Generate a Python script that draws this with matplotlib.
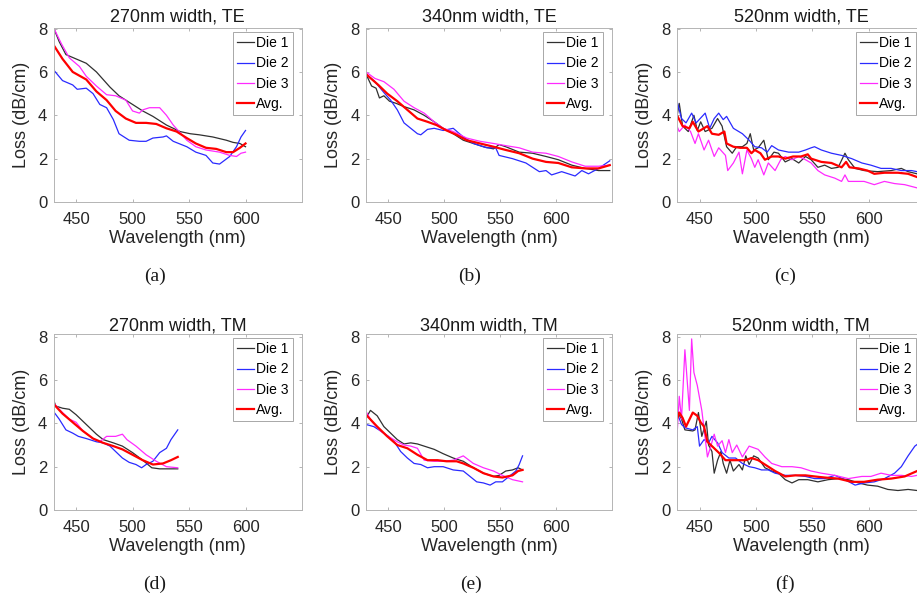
import matplotlib
matplotlib.use('Agg')
import matplotlib.pyplot as plt

plt.rcParams['font.family'] = ['Liberation Sans', 'DejaVu Sans']

FIG_W, FIG_H = 917, 596

titles = ['270nm width, TE', '340nm width, TE', '520nm width, TE',
          '270nm width, TM', '340nm width, TM', '520nm width, TM']
captions = ['(a)', '(b)', '(c)', '(d)', '(e)', '(f)']
labels = ['Die 1', 'Die 2', 'Die 3', 'Avg.']
xticks = [450, 500, 550, 600]
yticks = [0, 2, 4, 6, 8]

# (a) 270nm TE
a_d1_x = [430, 435, 441, 450, 459, 468, 480, 488, 500, 509, 518, 530, 542, 551, 559, 571, 583, 589, 595, 600]
a_d1_y = [8.05, 7.4, 6.8, 6.6, 6.4, 6.0, 5.3, 4.9, 4.5, 4.2, 3.95, 3.55, 3.25, 3.15, 3.1, 3.0, 2.85, 2.75, 2.7, 2.55]
a_d2_x = [430, 438, 447, 451, 459, 465, 471, 477, 483, 488, 497, 506, 512, 518, 527, 530, 536, 548, 556, 565, 571, 577, 586, 592, 596, 600]
a_d2_y = [6.1, 5.6, 5.4, 5.2, 5.25, 5.0, 4.5, 4.35, 3.8, 3.15, 2.85, 2.8, 2.8, 2.95, 3.0, 3.05, 2.8, 2.55, 2.3, 2.15, 1.8, 1.75, 2.1, 2.55, 3.0, 3.3]
a_d3_x = [430, 437, 444, 453, 459, 468, 477, 485, 494, 500, 506, 509, 515, 524, 530, 536, 542, 548, 556, 565, 577, 586, 592, 596, 600]
a_d3_y = [8.05, 7.3, 6.65, 6.25, 5.8, 5.35, 4.95, 4.9, 4.7, 4.2, 4.1, 4.25, 4.35, 4.35, 4.0, 3.55, 3.2, 2.85, 2.55, 2.4, 2.3, 2.15, 2.1, 2.25, 2.3]
a_avg_x = [430, 438, 447, 459, 468, 477, 485, 494, 503, 512, 521, 530, 539, 548, 556, 565, 574, 583, 589, 595, 600]
a_avg_y = [7.25, 6.6, 6.0, 5.65, 5.1, 4.7, 4.2, 3.85, 3.65, 3.65, 3.6, 3.4, 3.25, 2.95, 2.7, 2.5, 2.45, 2.3, 2.3, 2.5, 2.7]

# (b) 340nm TE
b_d1_x = [430, 435, 439, 442, 446, 451, 457, 464, 473, 482, 491, 499, 508, 517, 526, 535, 544, 549, 555, 567, 579, 591, 602, 614, 626, 638, 648]
b_d1_y = [5.9, 5.35, 5.25, 4.8, 4.9, 4.65, 4.55, 4.4, 4.25, 4.0, 3.7, 3.4, 3.15, 2.85, 2.7, 2.55, 2.45, 2.65, 2.55, 2.3, 2.25, 2.1, 1.95, 1.7, 1.55, 1.45, 1.45]
b_d2_x = [430, 438, 446, 452, 458, 464, 470, 476, 479, 485, 491, 499, 508, 517, 526, 538, 546, 549, 561, 573, 585, 591, 596, 605, 617, 623, 629, 638, 648]
b_d2_y = [5.9, 5.55, 5.05, 4.7, 4.25, 3.65, 3.4, 3.15, 3.1, 3.35, 3.4, 3.3, 3.4, 3.0, 2.7, 2.5, 2.5, 2.15, 2.0, 1.8, 1.4, 1.45, 1.25, 1.4, 1.2, 1.45, 1.3, 1.55, 1.9]
b_d3_x = [430, 438, 446, 455, 464, 473, 482, 491, 499, 508, 520, 532, 544, 555, 567, 579, 591, 602, 614, 626, 638, 648]
b_d3_y = [6.0, 5.7, 5.55, 5.2, 4.65, 4.35, 4.1, 3.7, 3.4, 3.25, 2.95, 2.8, 2.7, 2.6, 2.5, 2.3, 2.25, 2.1, 1.85, 1.65, 1.65, 1.7]
b_avg_x = [430, 441, 449, 458, 467, 476, 485, 493, 502, 511, 520, 532, 544, 555, 567, 579, 591, 602, 614, 626, 638, 648]
b_avg_y = [5.9, 5.4, 5.0, 4.65, 4.25, 3.85, 3.7, 3.55, 3.3, 3.1, 2.85, 2.7, 2.55, 2.4, 2.25, 2.0, 1.85, 1.8, 1.6, 1.55, 1.55, 1.7]

# (c) 520nm TE
c_d1_x = [430, 432, 435, 440, 445, 448, 451, 455, 461, 466, 470, 474, 479, 483, 488, 492, 495, 498, 502, 507, 511, 516, 520, 526, 532, 538, 544, 549, 555, 561, 567, 573, 579, 582, 588, 596, 608, 620, 629, 635, 643, 650]
c_d1_y = [3.95, 4.55, 3.5, 3.25, 4.0, 3.3, 3.7, 3.25, 3.4, 3.85, 3.5, 2.55, 2.25, 2.55, 2.55, 2.7, 3.15, 2.4, 2.5, 2.85, 1.95, 2.3, 2.25, 1.85, 2.0, 1.8, 2.1, 1.95, 1.6, 1.7, 1.55, 1.6, 2.25, 1.95, 1.55, 1.45, 1.4, 1.45, 1.55, 1.4, 1.3, 1.3]
c_d2_x = [430, 434, 438, 443, 447, 455, 459, 463, 467, 471, 474, 480, 488, 494, 499, 505, 510, 514, 520, 529, 538, 544, 549, 552, 558, 567, 576, 585, 594, 602, 611, 620, 629, 638, 643, 650]
c_d2_y = [4.65, 3.85, 3.65, 4.1, 3.65, 4.1, 3.4, 3.85, 4.1, 3.8, 3.95, 3.4, 3.15, 2.85, 2.55, 2.5, 2.3, 2.6, 2.4, 2.3, 2.3, 2.4, 2.5, 2.55, 2.4, 2.25, 2.15, 2.0, 1.8, 1.7, 1.55, 1.55, 1.45, 1.45, 1.4, 1.35]
c_d3_x = [430, 432, 437, 442, 446, 449, 454, 458, 463, 467, 473, 475, 480, 485, 488, 492, 496, 499, 502, 507, 511, 517, 522, 526, 532, 538, 544, 549, 555, 561, 570, 576, 579, 582, 588, 596, 605, 614, 623, 632, 643, 650]
c_d3_y = [3.5, 3.25, 3.55, 3.25, 2.7, 3.15, 2.4, 2.85, 2.1, 2.5, 2.15, 1.45, 1.8, 2.3, 1.3, 2.4, 2.0, 1.6, 1.95, 1.25, 1.8, 1.45, 1.95, 2.1, 1.95, 2.1, 1.95, 1.8, 1.45, 1.25, 1.1, 0.95, 1.25, 0.95, 0.95, 0.95, 0.8, 0.95, 0.85, 0.8, 0.65, 0.65]
c_avg_x = [430, 435, 441, 444, 449, 457, 461, 467, 472, 474, 480, 486, 492, 496, 499, 504, 508, 514, 520, 526, 533, 540, 546, 549, 558, 567, 576, 580, 583, 591, 599, 605, 614, 626, 635, 643, 650]
c_avg_y = [4.0, 3.5, 3.4, 3.7, 3.25, 3.5, 3.15, 3.1, 3.25, 2.7, 2.55, 2.5, 2.5, 2.25, 2.4, 2.25, 1.95, 2.1, 2.1, 2.0, 2.1, 2.1, 2.2, 2.0, 1.85, 1.8, 1.6, 1.85, 1.6, 1.55, 1.45, 1.3, 1.35, 1.35, 1.3, 1.15, 1.1]

# (d) 270nm TM
d_d1_x = [430, 432, 438, 444, 450, 459, 468, 474, 483, 491, 500, 509, 517, 524, 533, 540]
d_d1_y = [5.1, 4.8, 4.7, 4.65, 4.4, 3.95, 3.5, 3.25, 3.1, 2.95, 2.65, 2.3, 1.95, 1.9, 1.9, 1.9]
d_d2_x = [430, 435, 441, 447, 452, 459, 468, 474, 480, 485, 491, 497, 503, 508, 512, 518, 524, 530, 534, 540]
d_d2_y = [4.55, 4.2, 3.7, 3.55, 3.4, 3.3, 3.15, 3.1, 2.95, 2.7, 2.4, 2.2, 2.1, 1.95, 2.1, 2.25, 2.65, 2.85, 3.25, 3.7]
d_d3_x = [430, 435, 444, 450, 456, 465, 471, 477, 485, 491, 495, 503, 512, 521, 530, 540]
d_d3_y = [4.95, 4.65, 4.2, 4.05, 3.65, 3.3, 3.15, 3.4, 3.4, 3.5, 3.25, 2.95, 2.55, 2.25, 2.0, 1.95]
d_avg_x = [430, 438, 447, 456, 465, 474, 483, 491, 500, 509, 518, 527, 534, 540]
d_avg_y = [4.9, 4.45, 4.05, 3.65, 3.3, 3.1, 2.95, 2.8, 2.55, 2.3, 2.1, 2.15, 2.3, 2.45]

# (e) 340nm TM
e_d1_x = [430, 434, 440, 446, 452, 458, 464, 470, 476, 482, 491, 499, 508, 517, 526, 535, 544, 549, 555, 561, 566, 570]
e_d1_y = [4.25, 4.6, 4.35, 3.85, 3.55, 3.25, 3.05, 3.1, 3.05, 2.95, 2.8, 2.6, 2.4, 2.25, 1.95, 1.7, 1.55, 1.6, 1.8, 1.85, 1.95, 1.85]
e_d2_x = [430, 437, 443, 450, 456, 461, 467, 473, 479, 485, 491, 499, 508, 517, 523, 529, 535, 541, 546, 552, 558, 564, 567, 570]
e_d2_y = [3.95, 3.85, 3.65, 3.4, 3.1, 2.7, 2.4, 2.15, 2.1, 1.95, 2.0, 2.0, 1.85, 1.8, 1.55, 1.3, 1.25, 1.15, 1.3, 1.3, 1.55, 1.8, 2.1, 2.5]
e_d3_x = [430, 435, 443, 450, 458, 464, 470, 476, 482, 491, 499, 508, 517, 526, 535, 544, 552, 561, 570]
e_d3_y = [4.55, 4.1, 3.65, 3.4, 3.15, 3.0, 2.95, 2.85, 2.3, 2.25, 2.25, 2.3, 2.5, 2.15, 1.95, 1.8, 1.6, 1.4, 1.3]
e_avg_x = [430, 440, 449, 458, 467, 476, 485, 494, 502, 511, 517, 526, 535, 544, 552, 561, 566, 570]
e_avg_y = [4.4, 3.85, 3.4, 3.0, 2.85, 2.55, 2.3, 2.3, 2.25, 2.25, 2.15, 1.95, 1.7, 1.55, 1.5, 1.6, 1.8, 1.85]

# (f) 520nm TM
f_d1_x = [430, 434, 437, 444, 446, 449, 452, 456, 458, 461, 463, 466, 469, 471, 474, 477, 480, 485, 488, 491, 494, 498, 502, 508, 514, 520, 526, 532, 538, 546, 555, 564, 573, 582, 591, 599, 608, 617, 626, 635, 643, 650]
f_d1_y = [4.55, 4.2, 3.7, 3.65, 3.7, 4.5, 3.4, 4.1, 3.0, 2.7, 1.7, 2.3, 2.7, 2.15, 1.7, 2.3, 1.8, 2.1, 1.85, 2.5, 2.1, 2.5, 2.4, 1.95, 1.8, 1.7, 1.4, 1.25, 1.4, 1.4, 1.3, 1.4, 1.45, 1.4, 1.25, 1.15, 1.1, 0.95, 0.9, 0.95, 0.9, 0.9]
f_d2_x = [430, 434, 437, 444, 448, 450, 454, 458, 461, 466, 470, 476, 482, 488, 494, 499, 505, 511, 517, 526, 535, 544, 552, 561, 570, 579, 588, 596, 605, 614, 623, 629, 635, 641, 645, 650]
f_d2_y = [4.5, 3.95, 3.8, 3.7, 3.85, 2.95, 3.25, 3.1, 3.4, 3.1, 2.65, 2.4, 2.4, 2.15, 2.0, 1.95, 1.85, 1.85, 1.7, 1.6, 1.6, 1.55, 1.45, 1.45, 1.6, 1.4, 1.15, 1.25, 1.3, 1.45, 1.7, 2.0, 2.5, 2.95, 3.1, 3.15]
f_d3_x = [430, 432, 434, 437, 441, 443, 445, 448, 452, 457, 460, 463, 466, 470, 473, 476, 479, 483, 488, 494, 502, 508, 514, 523, 532, 540, 549, 558, 570, 582, 594, 602, 611, 620, 629, 638, 643, 650]
f_d3_y = [3.4, 5.25, 4.2, 7.4, 4.6, 7.9, 6.35, 5.75, 4.6, 2.45, 2.95, 3.5, 2.95, 3.2, 2.65, 3.25, 2.65, 3.0, 2.45, 2.95, 2.8, 2.45, 2.15, 2.0, 2.0, 1.95, 1.8, 1.7, 1.6, 1.45, 1.55, 1.55, 1.7, 1.6, 1.6, 1.55, 1.6, 1.6]
f_avg_x = [430, 432, 435, 438, 444, 448, 451, 454, 457, 461, 467, 473, 479, 485, 491, 496, 502, 508, 517, 526, 535, 544, 552, 561, 573, 585, 596, 608, 620, 632, 643, 650]
f_avg_y = [4.2, 4.5, 4.25, 3.85, 4.5, 4.35, 4.05, 3.85, 3.15, 2.95, 2.65, 2.3, 2.3, 2.3, 2.3, 2.4, 2.3, 2.1, 1.8, 1.55, 1.6, 1.6, 1.55, 1.5, 1.45, 1.3, 1.3, 1.4, 1.45, 1.55, 1.8, 1.85]

panels = [
    [(a_d1_x, a_d1_y), (a_d2_x, a_d2_y), (a_d3_x, a_d3_y), (a_avg_x, a_avg_y)],
    [(b_d1_x, b_d1_y), (b_d2_x, b_d2_y), (b_d3_x, b_d3_y), (b_avg_x, b_avg_y)],
    [(c_d1_x, c_d1_y), (c_d2_x, c_d2_y), (c_d3_x, c_d3_y), (c_avg_x, c_avg_y)],
    [(d_d1_x, d_d1_y), (d_d2_x, d_d2_y), (d_d3_x, d_d3_y), (d_avg_x, d_avg_y)],
    [(e_d1_x, e_d1_y), (e_d2_x, e_d2_y), (e_d3_x, e_d3_y), (e_avg_x, e_avg_y)],
    [(f_d1_x, f_d1_y), (f_d2_x, f_d2_y), (f_d3_x, f_d3_y), (f_avg_x, f_avg_y)],
]

colors = ['#303030', '#2a2aff', '#ff2aff', '#ff0000']
widths = [0.9, 0.9, 0.9, 1.6]

# axes boxes in pixels: left, top, right, bottom
boxes = [(53.5, 27.5, 302, 202), (366, 27.5, 612, 202), (677, 27.5, 925, 202),
         (53.5, 333.5, 302, 510), (366, 333.5, 612, 510), (677, 333.5, 925, 510)]
ytops = [8.05, 8.05, 8.05, 8.15, 8.15, 8.15]
title_pads = [4, 4, 4, 2.3, 2.3, 2.3]
caption_pos = [(155, 276), (470, 276), (785, 276), (155, 584), (471, 584), (785, 584)]


def px_rect(l, t, r, b):
    return [l / FIG_W, 1 - b / FIG_H, (r - l) / FIG_W, (b - t) / FIG_H]


fig = plt.figure(figsize=(FIG_W / 100, FIG_H / 100), dpi=100)

for i in range(6):
    l, t, r, b = boxes[i]
    ax = fig.add_axes(px_rect(l, t, r, b))
    for (xs, ys), c, lw, lab in zip(panels[i], colors, widths, labels):
        ax.plot(xs, ys, color=c, lw=lw, label=lab)
    ax.set_xlim(430, 650)
    ax.set_ylim(0, ytops[i])
    ax.set_xticks(xticks)
    ax.set_yticks(yticks)
    ax.tick_params(direction='in', length=2.5, width=0.6, color='#a8a8a8',
                   top=True, right=True, labelsize=12, labelcolor='#262626')
    ax.tick_params(axis='x', pad=7)
    ax.tick_params(axis='y', pad=4.5)
    for sp in ax.spines.values():
        sp.set_color('#b4b4b4')
        sp.set_linewidth(0.7)
    ax.set_title(titles[i], fontsize=13, color='#1a1a1a', pad=title_pads[i])
    ax.set_xlabel('Wavelength (nm)', fontsize=13, color='#262626', labelpad=2.5)
    ax.set_ylabel('Loss (dB/cm)', fontsize=13, color='#262626', labelpad=6)
    w, h = r - l, b - t
    leg = ax.legend(loc='upper right', bbox_to_anchor=(1 - 9 / w, 1 - 4.5 / h),
                    borderaxespad=0, fontsize=10, handlelength=1.2, handletextpad=0.15,
                    labelspacing=0.45, borderpad=0.3, fancybox=False, framealpha=1)
    leg.get_frame().set_edgecolor('#a8a8a8')
    leg.get_frame().set_linewidth(0.7)
    cx, cy = caption_pos[i]
    fig.text(cx / FIG_W, 1 - cy / FIG_H, captions[i], ha='center', va='center',
             fontsize=14, family='Liberation Serif', color='#1a1a1a')

fig.savefig('out.png', dpi=100)
